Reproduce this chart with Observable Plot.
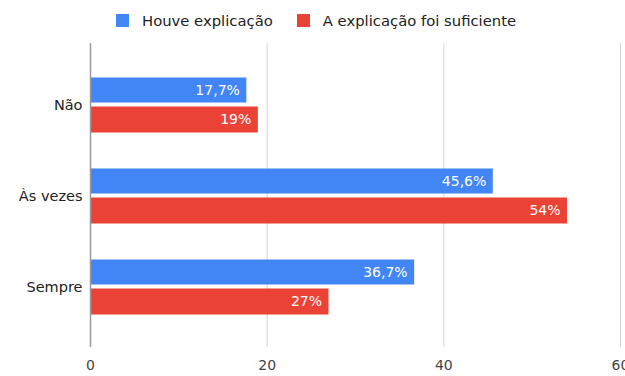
<!DOCTYPE html>
<html>
<head>
<meta charset="utf-8">
<script src="https://cdn.jsdelivr.net/npm/d3@7"></script>
<script src="https://cdn.jsdelivr.net/npm/@observablehq/plot@0.6"></script>
<style>
  html, body { margin: 0; padding: 0; background: #fff; overflow: hidden; }
  body { width: 625px; height: 376px; font-family: "DejaVu Sans", sans-serif; }
  #legend { height: 40px; display: flex; align-items: center; padding-left: 116px; box-sizing: border-box; font-size: 14.8px; color: #222; }
  #legend .item { display: flex; align-items: center; }
  #legend .item + .item { margin-left: 24px; }
  #legend .sw { width: 13px; height: 13px; margin-right: 13px; }
  #chart svg { display: block; overflow: visible; }
</style>
</head>
<body>
<div id="legend"></div>
<div id="chart"></div>
<script>
// Categories, series and values
const categories = ["Não", "Às vezes", "Sempre"];
const series = ["Houve explicação", "A explicação foi suficiente"];
const houveExplicacao = [17.7, 45.6, 36.7];
const explicacaoSuficiente = [19, 54, 27];
const xTicks = [0, 20, 40, 60];
const colors = ["#4285F4", "#EA4335"];

const fmt = v => String(v).replace(".", ",") + "%";

const blueRows = categories.map((c, i) => ({category: c, series: series[0], value: houveExplicacao[i]}));
const redRows = categories.map((c, i) => ({category: c, series: series[1], value: explicacaoSuficiente[i]}));

// Legend
const legend = document.getElementById("legend");
series.forEach((s, i) => {
  const item = document.createElement("div");
  item.className = "item";
  const sw = document.createElement("span");
  sw.className = "sw";
  sw.style.background = colors[i];
  const label = document.createElement("span");
  label.textContent = s;
  item.append(sw, label);
  legend.append(item);
});

const chart = Plot.plot({
  width: 625,
  height: 336,
  marginLeft: 90,
  marginRight: 5,
  marginTop: 3,
  marginBottom: 29,
  style: {fontFamily: "DejaVu Sans, sans-serif", fontSize: "14px", background: "#fff"},
  x: {domain: [0, 60], label: null},
  y: {domain: categories, paddingInner: 0, paddingOuter: 0.17, label: null},
  color: {domain: series, range: colors},
  marks: [
    Plot.gridX(xTicks, {stroke: "#d4d4d4", strokeOpacity: 1}),
    Plot.barX(blueRows, {x: "value", y: "category", fill: "series", insetTop: 18.5, insetBottom: 47.5}),
    Plot.barX(redRows, {x: "value", y: "category", fill: "series", insetTop: 47.5, insetBottom: 17.5}),
    Plot.ruleX([0], {stroke: "#9a9a9a", strokeWidth: 1.5}),
    Plot.text(blueRows, {x: "value", y: "category", text: d => fmt(d.value), textAnchor: "end", dx: -7, dy: -14.5, fill: "white", fontSize: 14}),
    Plot.text(redRows, {x: "value", y: "category", text: d => fmt(d.value), textAnchor: "end", dx: -7, dy: 15, fill: "white", fontSize: 14}),
    Plot.axisX({ticks: xTicks, tickSize: 0, tickPadding: 13, fontSize: 14, fill: "#444", label: null}),
    Plot.axisY({tickSize: 0, tickPadding: 8, fontSize: 14.5, fill: "#222", label: null})
  ]
});
document.getElementById("chart").append(chart);
</script>
</body>
</html>
